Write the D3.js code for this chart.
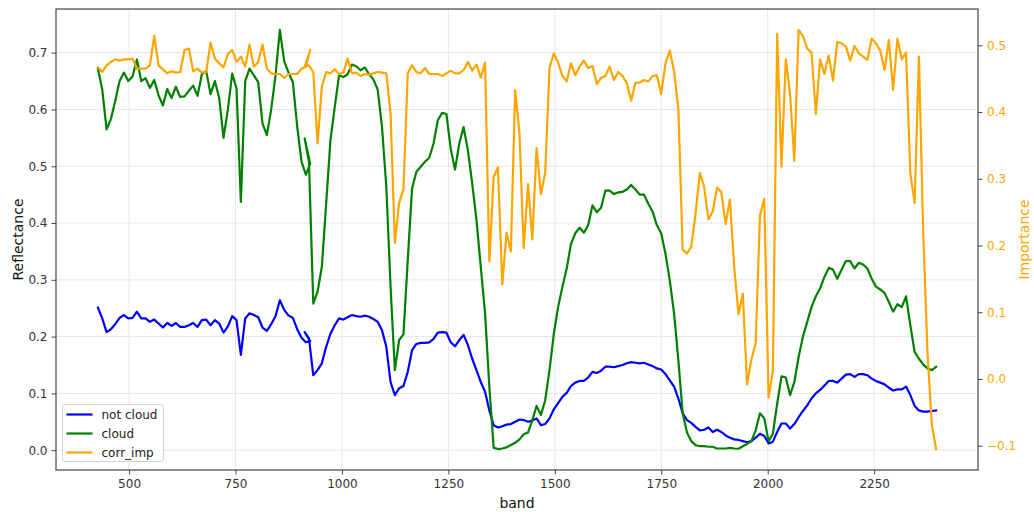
<!DOCTYPE html>
<html>
<head>
<meta charset="utf-8">
<script src="https://cdn.jsdelivr.net/npm/d3@7"></script>
<style>
  html, body { margin: 0; padding: 0; background: #fff; }
  svg { display: block; font-family: "DejaVu Sans", sans-serif; }
</style>
</head>
<body>
<svg id="chart" width="1034" height="512"></svg>
<script>
// ---------- DATA ----------
const bands = [
  426.82, 436.99, 447.17, 457.34, 467.52, 477.69, 487.87, 498.04, 508.22, 518.39,
  528.57, 538.74, 548.92, 559.09, 569.27, 579.45, 589.62, 599.80, 609.97, 620.15,
  630.32, 640.50, 650.67, 660.85, 671.02, 681.20, 691.37, 701.55, 711.72, 721.90,
  732.07, 742.25, 752.43, 762.60, 772.78, 782.95, 793.13, 803.30, 813.48, 823.65,
  833.83, 844.00, 854.18, 864.35, 874.53, 884.70, 894.88, 905.05, 915.23, 925.41,
  912.45, 922.54, 932.64, 942.73, 952.82, 962.91, 972.99, 983.08, 993.17, 1003.30,
  1013.30, 1023.40, 1033.49, 1043.59, 1053.69, 1063.79, 1073.89, 1083.99, 1094.09, 1104.19,
  1114.19, 1124.28, 1134.38, 1144.48, 1154.58, 1164.68, 1174.77, 1184.87, 1194.97, 1205.07,
  1215.17, 1225.17, 1235.27, 1245.36, 1255.46, 1265.56, 1275.66, 1285.76, 1295.86, 1305.96,
  1316.05, 1326.05, 1336.15, 1346.25, 1356.35, 1366.45, 1376.55, 1386.65, 1396.74, 1406.84,
  1416.94, 1426.94, 1437.04, 1447.14, 1457.23, 1467.33, 1477.43, 1487.53, 1497.63, 1507.73,
  1517.83, 1527.92, 1537.92, 1548.02, 1558.12, 1568.22, 1578.32, 1588.42, 1598.51, 1608.61,
  1618.71, 1628.81, 1638.81, 1648.90, 1659.00, 1669.10, 1679.20, 1689.30, 1699.40, 1709.50,
  1719.60, 1729.70, 1739.70, 1749.79, 1759.89, 1769.99, 1780.09, 1790.19, 1800.29, 1810.38,
  1820.48, 1830.58, 1840.58, 1850.68, 1860.78, 1870.87, 1880.98, 1891.07, 1901.17, 1911.27,
  1921.37, 1931.47, 1941.57, 1951.57, 1961.66, 1971.76, 1981.86, 1991.96, 2002.06, 2012.15,
  2022.25, 2032.35, 2042.45, 2052.45, 2062.55, 2072.65, 2082.75, 2092.84, 2102.94, 2113.04,
  2123.14, 2133.24, 2143.34, 2153.34, 2163.43, 2173.53, 2183.63, 2193.73, 2203.83, 2213.93,
  2224.03, 2234.12, 2244.22, 2254.22, 2264.32, 2274.42, 2284.52, 2294.61, 2304.71, 2314.81,
  2324.91, 2335.01, 2345.11, 2355.21, 2365.20, 2375.30, 2385.40, 2395.50
];

const notCloud = [
  0.251, 0.232, 0.208, 0.213, 0.222, 0.233, 0.238, 0.232, 0.233, 0.244,
  0.232, 0.232, 0.226, 0.230, 0.223, 0.216, 0.224, 0.219, 0.224, 0.217,
  0.217, 0.220, 0.224, 0.217, 0.229, 0.230, 0.220, 0.229, 0.223, 0.207,
  0.218, 0.236, 0.229, 0.168, 0.232, 0.241, 0.238, 0.234, 0.216, 0.210,
  0.222, 0.236, 0.264, 0.247, 0.237, 0.233, 0.213, 0.198, 0.190, 0.192,
  0.208, 0.197, 0.132, 0.141, 0.153, 0.182, 0.205, 0.220, 0.232, 0.230,
  0.234, 0.238, 0.236, 0.235, 0.237, 0.235, 0.231, 0.226, 0.211, 0.182,
  0.120, 0.097, 0.109, 0.113, 0.138, 0.176, 0.187, 0.189, 0.189, 0.190,
  0.196, 0.207, 0.208, 0.207, 0.190, 0.183, 0.194, 0.203, 0.185, 0.161,
  0.141, 0.120, 0.103, 0.070, 0.044, 0.040, 0.042, 0.045, 0.046, 0.050,
  0.054, 0.053, 0.050, 0.052, 0.056, 0.044, 0.046, 0.056, 0.072, 0.083,
  0.094, 0.101, 0.113, 0.119, 0.122, 0.122, 0.128, 0.138, 0.136, 0.140,
  0.147, 0.147, 0.146, 0.148, 0.150, 0.153, 0.155, 0.154, 0.153, 0.154,
  0.151, 0.148, 0.144, 0.142, 0.134, 0.123, 0.112, 0.091, 0.065, 0.053,
  0.048, 0.041, 0.035, 0.036, 0.040, 0.032, 0.036, 0.032, 0.026, 0.022,
  0.019, 0.018, 0.016, 0.014, 0.016, 0.022, 0.029, 0.025, 0.012, 0.015,
  0.032, 0.047, 0.047, 0.038, 0.046, 0.058, 0.069, 0.079, 0.091, 0.100,
  0.106, 0.114, 0.122, 0.122, 0.119, 0.126, 0.133, 0.134, 0.129, 0.134,
  0.134, 0.132, 0.126, 0.122, 0.119, 0.116, 0.110, 0.105, 0.107, 0.107,
  0.112, 0.097, 0.078, 0.070, 0.068, 0.068, 0.069, 0.070
];

const cloud = [
  0.672, 0.635, 0.565, 0.583, 0.615, 0.650, 0.665, 0.650, 0.658, 0.688,
  0.650, 0.655, 0.638, 0.652, 0.625, 0.607, 0.636, 0.620, 0.640, 0.622,
  0.623, 0.633, 0.642, 0.624, 0.662, 0.668, 0.627, 0.650, 0.620, 0.550,
  0.600, 0.663, 0.637, 0.437, 0.650, 0.672, 0.660, 0.648, 0.575, 0.555,
  0.600, 0.660, 0.740, 0.685, 0.665, 0.648, 0.570, 0.508, 0.485, 0.505,
  0.549, 0.508, 0.258, 0.279, 0.323, 0.434, 0.546, 0.604, 0.660, 0.657,
  0.662, 0.679, 0.676, 0.669, 0.674, 0.662, 0.653, 0.635, 0.569, 0.464,
  0.288, 0.141, 0.194, 0.204, 0.335, 0.461, 0.490, 0.499, 0.508, 0.515,
  0.540, 0.581, 0.594, 0.592, 0.531, 0.494, 0.540, 0.569, 0.528, 0.470,
  0.405, 0.323, 0.241, 0.111, 0.004, 0.002, 0.003, 0.005, 0.009, 0.013,
  0.019, 0.028, 0.031, 0.053, 0.078, 0.062, 0.088, 0.141, 0.205, 0.252,
  0.288, 0.320, 0.363, 0.382, 0.392, 0.383, 0.396, 0.431, 0.419, 0.427,
  0.457, 0.457, 0.451, 0.454, 0.455, 0.459, 0.467, 0.459, 0.450, 0.450,
  0.434, 0.420, 0.396, 0.382, 0.346, 0.299, 0.241, 0.158, 0.065, 0.031,
  0.016, 0.009, 0.007, 0.007, 0.006, 0.006, 0.003, 0.003, 0.003, 0.004,
  0.003, 0.0025, 0.007, 0.011, 0.016, 0.035, 0.065, 0.056, 0.016, 0.029,
  0.082, 0.130, 0.128, 0.097, 0.120, 0.164, 0.200, 0.226, 0.252, 0.271,
  0.285, 0.305, 0.321, 0.318, 0.302, 0.318, 0.333, 0.333, 0.320, 0.330,
  0.327, 0.320, 0.302, 0.288, 0.283, 0.277, 0.261, 0.244, 0.257, 0.252,
  0.271, 0.220, 0.173, 0.161, 0.151, 0.144, 0.141, 0.147
];

const corrImp = [
  0.467, 0.460, 0.470, 0.475, 0.479, 0.477, 0.479, 0.479, 0.480, 0.465,
  0.465, 0.465, 0.470, 0.514, 0.470, 0.464, 0.458, 0.461, 0.459, 0.460,
  0.493, 0.495, 0.461, 0.465, 0.459, 0.460, 0.504, 0.480, 0.473, 0.467,
  0.487, 0.493, 0.475, 0.483, 0.468, 0.501, 0.468, 0.475, 0.501, 0.465,
  0.458, 0.457, 0.457, 0.451, 0.457, 0.457, 0.457, 0.465, 0.468, 0.493,
  0.468, 0.470, 0.460, 0.353, 0.438, 0.460, 0.458, 0.464, 0.457, 0.459,
  0.480, 0.458, 0.459, 0.454, 0.457, 0.456, 0.458, 0.460, 0.459, 0.458,
  0.398, 0.204, 0.264, 0.284, 0.458, 0.470, 0.460, 0.458, 0.466, 0.457,
  0.457, 0.457, 0.454, 0.458, 0.462, 0.458, 0.458, 0.463, 0.475, 0.462,
  0.471, 0.452, 0.474, 0.176, 0.303, 0.317, 0.142, 0.219, 0.191, 0.433,
  0.368, 0.196, 0.292, 0.209, 0.346, 0.277, 0.309, 0.466, 0.488, 0.474,
  0.454, 0.446, 0.473, 0.455, 0.468, 0.477, 0.466, 0.469, 0.442, 0.451,
  0.454, 0.468, 0.448, 0.460, 0.454, 0.443, 0.417, 0.444, 0.444, 0.448,
  0.446, 0.454, 0.455, 0.427, 0.473, 0.492, 0.461, 0.404, 0.194, 0.188,
  0.198, 0.248, 0.309, 0.288, 0.239, 0.251, 0.287, 0.280, 0.232, 0.269,
  0.167, 0.097, 0.128, -0.008, 0.029, 0.054, 0.245, 0.270, -0.028, 0.011,
  0.517, 0.318, 0.479, 0.428, 0.327, 0.523, 0.514, 0.495, 0.489, 0.397,
  0.479, 0.457, 0.485, 0.447, 0.505, 0.503, 0.498, 0.477, 0.499, 0.488,
  0.483, 0.478, 0.510, 0.503, 0.492, 0.463, 0.508, 0.433, 0.510, 0.479,
  0.489, 0.308, 0.264, 0.483, 0.220, 0.040, -0.068, -0.105
];

const seriesNames = ["not cloud", "cloud", "corr_imp"];
const seriesColors = ["#0000ff", "#008000", "#ffa500"];
const xTicks = [500, 750, 1000, 1250, 1500, 1750, 2000, 2250];
const yLeftTicks = [0.0, 0.1, 0.2, 0.3, 0.4, 0.5, 0.6, 0.7];
const yRightTicks = [-0.1, 0.0, 0.1, 0.2, 0.3, 0.4, 0.5];
const xLabel = "band";
const yLeftLabel = "Reflectance";
const yRightLabel = "Importance";

// ---------- LAYOUT ----------
const W = 1034, H = 512;
const M = { left: 56, right: 978, top: 9, bottom: 470 };
const svg = d3.select("#chart");

function padded(ext) {
  const p = (ext[1] - ext[0]) * 0.05;
  return [ext[0] - p, ext[1] + p];
}

const x = d3.scaleLinear().domain(padded(d3.extent(bands))).range([M.left, M.right]);
const yL = d3.scaleLinear()
  .domain(padded(d3.extent(notCloud.concat(cloud))))
  .range([M.bottom, M.top]);
const yR = d3.scaleLinear().domain(padded(d3.extent(corrImp))).range([M.bottom, M.top]);

const fmt = d => d3.format(".1f")(d).replace("-", "\u2212");

// grid
const grid = svg.append("g");
grid.selectAll(".gx").data(xTicks).join("line")
  .attr("x1", d => x(d)).attr("x2", d => x(d))
  .attr("y1", M.top).attr("y2", M.bottom)
  .attr("stroke", "#e6e6e6").attr("stroke-width", 1);
grid.selectAll(".gy").data(yLeftTicks).join("line")
  .attr("x1", M.left).attr("x2", M.right)
  .attr("y1", d => yL(d)).attr("y2", d => yL(d))
  .attr("stroke", "#e6e6e6").attr("stroke-width", 1);

// lines
const idx = d3.range(bands.length);
function drawLine(vals, yScale, color) {
  const line = d3.line().x(i => x(bands[i])).y(i => yScale(vals[i]));
  svg.append("path").datum(idx)
    .attr("d", line)
    .attr("fill", "none")
    .attr("stroke", color)
    .attr("stroke-width", 2.2)
    .attr("stroke-linejoin", "round")
    .attr("stroke-linecap", "square");
}
drawLine(notCloud, yL, seriesColors[0]);
drawLine(cloud, yL, seriesColors[1]);
drawLine(corrImp, yR, seriesColors[2]);

// axes
const spineColor = "#444";
const tickColor = "#333";

const gx = svg.append("g").attr("transform", `translate(0,${M.bottom})`)
  .call(d3.axisBottom(x).tickValues(xTicks).tickFormat(d3.format("d")).tickSize(4.5).tickPadding(4.5));
const gyl = svg.append("g").attr("transform", `translate(${M.left},0)`)
  .call(d3.axisLeft(yL).tickValues(yLeftTicks).tickFormat(fmt).tickSize(4.5).tickPadding(4));
const gyr = svg.append("g").attr("transform", `translate(${M.right},0)`)
  .call(d3.axisRight(yR).tickValues(yRightTicks).tickFormat(fmt).tickSize(4.5).tickPadding(4.5));

[gx, gyl, gyr].forEach(g => {
  g.select(".domain").remove();
  g.selectAll(".tick line").attr("stroke", spineColor).attr("stroke-width", 1);
  g.selectAll(".tick text").attr("fill", tickColor)
    .style("font-family", "DejaVu Sans").style("font-size", "12px");
});
gyr.selectAll(".tick text").attr("fill", "#ffa500");

// frame
svg.append("rect")
  .attr("x", M.left).attr("y", M.top)
  .attr("width", M.right - M.left).attr("height", M.bottom - M.top)
  .attr("fill", "none").attr("stroke", spineColor).attr("stroke-width", 1.2);

// axis labels
svg.append("text")
  .attr("x", (M.left + M.right) / 2).attr("y", 507.5)
  .attr("text-anchor", "middle")
  .style("font-size", "14px").attr("fill", "#111")
  .text(xLabel);
svg.append("text")
  .attr("transform", `translate(23,${(M.top + M.bottom) / 2}) rotate(-90)`)
  .attr("text-anchor", "middle")
  .style("font-size", "14px").attr("fill", "#111")
  .text(yLeftLabel);
svg.append("text")
  .attr("transform", `translate(1029,${(M.top + M.bottom) / 2}) rotate(-90)`)
  .attr("text-anchor", "middle")
  .style("font-size", "14px").attr("fill", "#ffa500")
  .text(yRightLabel);

// legend
const lg = svg.append("g").attr("transform", "translate(62.5,404.5)");
lg.append("rect")
  .attr("width", 101).attr("height", 57).attr("rx", 3)
  .attr("fill", "rgba(255,255,255,0.8)")
  .attr("stroke", "#d0d0d0").attr("stroke-width", 1);
seriesNames.forEach((name, i) => {
  const yy = 10 + i * 19;
  lg.append("line")
    .attr("x1", 4).attr("x2", 30).attr("y1", yy).attr("y2", yy)
    .attr("stroke", seriesColors[i]).attr("stroke-width", 2.2);
  lg.append("text")
    .attr("x", 39).attr("y", yy).attr("dy", "0.35em")
    .style("font-size", "12px").attr("fill", "#222")
    .text(name);
});
</script>
</body>
</html>
